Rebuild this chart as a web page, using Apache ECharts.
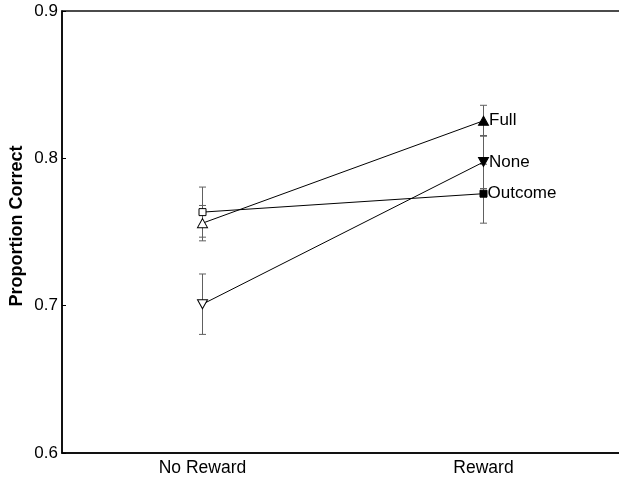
<!DOCTYPE html>
<html>
<head>
<meta charset="utf-8">
<script src="https://cdn.jsdelivr.net/npm/echarts@6/dist/echarts.min.js"></script>
<style>html,body{margin:0;padding:0;background:#fff;}#c{width:619px;height:478px;}</style>
</head>
<body>
<div id="c"></div>
<script>
var categories = ['No Reward', 'Reward'];
var fullMean = [0.756, 0.8255];
var fullErr = [0.012, 0.0105];
var noneMean = [0.701, 0.7975];
var noneErr = [0.0205, 0.018];
var outcomeMean = [0.7635, 0.776];
var outcomeErr = [0.017, 0.020];
var yTicks = [0.6, 0.7, 0.8, 0.9];

var FONT = 'Liberation Sans, Arial, sans-serif';

function errData(mean, err) {
  return mean.map(function (m, i) { return [i, m - err[i], m + err[i]]; });
}
function errSeries(mean, err) {
  return {
    type: 'custom',
    z: 1,
    silent: true,
    data: errData(mean, err),
    renderItem: function (params, api) {
      var x = api.value(0);
      var lo = api.coord([x, api.value(1)]);
      var hi = api.coord([x, api.value(2)]);
      var hw = 3.5;
      var st = { stroke: '#606060', lineWidth: 1 };
      return {
        type: 'group',
        children: [
          { type: 'line', shape: { x1: lo[0], y1: lo[1], x2: hi[0], y2: hi[1] }, style: st },
          { type: 'line', shape: { x1: lo[0] - hw, y1: lo[1], x2: lo[0] + hw, y2: lo[1] }, style: st },
          { type: 'line', shape: { x1: hi[0] - hw, y1: hi[1], x2: hi[0] + hw, y2: hi[1] }, style: st }
        ]
      };
    }
  };
}
function lineSeries(name, mean, symbol, size, rotate) {
  return {
    type: 'line',
    name: name,
    z: 3,
    symbol: symbol,
    symbolSize: size,
    symbolRotate: rotate,
    lineStyle: { color: '#000', width: 1 },
    data: mean.map(function (v, i) {
      return {
        value: v,
        itemStyle: i === 0 ? { color: '#fff', borderColor: '#000', borderWidth: 1 } : { color: '#000', borderColor: '#000', borderWidth: 1 },
        label: i === 1 ? { show: true, position: 'right', distance: 0, formatter: name, color: '#000', fontSize: 17, fontFamily: FONT } : { show: false }
      };
    })
  };
}

var chart = echarts.init(document.getElementById('c'), null, { renderer: 'canvas' });
chart.setOption({
  animation: false,
  backgroundColor: '#fff',
  grid: { left: 62, top: 11, width: 562, height: 442, outerBoundsMode: 'none', containLabel: false, show: true, borderColor: '#111', borderWidth: 1.5, backgroundColor: 'transparent' },
  graphic: [{
    type: 'text',
    x: 17, y: 226,
    rotation: Math.PI / 2,
    style: { text: 'Proportion Correct', fill: '#000', font: 'bold 18px ' + FONT, textAlign: 'center', textVerticalAlign: 'middle' }
  }],
  xAxis: {
    type: 'category',
    data: categories,
    boundaryGap: true,
    axisLine: { lineStyle: { color: '#000', width: 1.5 } },
    axisTick: { inside: true, alignWithLabel: true, length: 4, lineStyle: { color: '#000' } },
    axisLabel: { color: '#000', fontSize: 17.5, fontFamily: FONT, margin: 6 },
    splitLine: { show: false }
  },
  yAxis: {
    type: 'value',
    min: 0.6, max: 0.9, interval: 0.1,
    axisLine: { show: true, lineStyle: { color: '#000', width: 1.5 } },
    axisTick: { show: true, inside: true, length: 4, lineStyle: { color: '#000' } },
    axisLabel: { color: '#000', fontSize: 17, fontFamily: FONT, margin: 4, formatter: function (v) { return yTicks.indexOf(+v.toFixed(1)) >= 0 ? v.toFixed(1) : ''; } },
    splitLine: { show: false }
  },
  series: [
    errSeries(fullMean, fullErr),
    errSeries(noneMean, noneErr),
    errSeries(outcomeMean, outcomeErr),
    lineSeries('Outcome', outcomeMean, 'rect', 7, 0),
    lineSeries('Full', fullMean, 'triangle', [10, 9], 0),
    lineSeries('None', noneMean, 'triangle', [10, 9], 180)
  ]
});
</script>
</body>
</html>
